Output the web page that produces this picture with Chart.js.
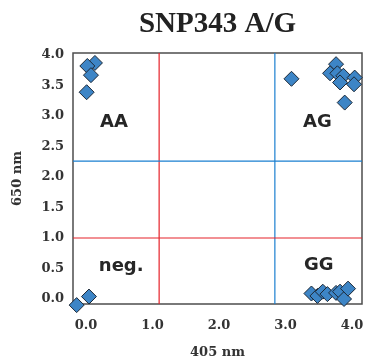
<!DOCTYPE html>
<html>
<head>
<meta charset="utf-8">
<script src="https://cdn.jsdelivr.net/npm/chart.js@4.4.1/dist/chart.umd.min.js"></script>
<style>
html, body { margin: 0; padding: 0; background: #fff; }
</style>
</head>
<body>
<canvas id="snpChart" width="367" height="364"></canvas>
<script>
// readings, 405 nm (x) vs 650 nm (y)
const pointsX = [0.135, 0.02, 0.075, 0.01,
                 -0.14, 0.045,
                 3.09, 3.76, 3.67, 3.78, 3.87, 3.82, 4.04, 4.03, 3.89,
                 3.39, 3.48, 3.56, 3.63, 3.76, 3.82, 3.88, 3.94];
const pointsY = [3.87, 3.82, 3.67, 3.39,
                 -0.1, 0.04,
                 3.61, 3.85, 3.70, 3.70, 3.66, 3.55, 3.63, 3.52, 3.22,
                 0.09, 0.05, 0.12, 0.08, 0.10, 0.12, 0.0, 0.17];

// cluster labels
const groupNames = ['AA', 'AG', 'neg.', 'GG'];
const groupX = [0.42, 3.48, 0.53, 3.5];
const groupY = [2.9, 2.9, 0.54, 0.56];

// cut-off lines
const redCutX = 1.10;
const blueCutX = 2.84;
const redCutY = 1.0;
const blueCutY = 2.26;

const xTicks = [0, 1, 2, 3, 4];
const yTicks = [0, 0.5, 1, 1.5, 2, 2.5, 3, 3.5, 4];
const xMin = -0.195, xMax = 4.15;
const yMin = -0.082, yMax = 4.033;

const chartTitle = 'SNP343 A/G';
const RED = '#e5222a';
const BLUE = '#1a7fd0';

function hLine(v, color) {
  return { type: 'line', data: [{x: xMin, y: v}, {x: xMax, y: v}], borderColor: color,
           borderWidth: 1.2, pointRadius: 0, order: 2 };
}
function vLine(v, color) {
  return { type: 'line', data: [{x: v, y: yMin}, {x: v, y: yMax}], borderColor: color,
           borderWidth: 1.2, pointRadius: 0, order: 2 };
}

// frame, cluster names and a title centred over the plot area
const boxAndLabels = {
  id: 'boxAndLabels',
  beforeDatasetsDraw(chart) {
    const {ctx, chartArea: a, scales: {x, y}} = chart;
    ctx.save();
    ctx.strokeStyle = '#4d4d4d';
    ctx.lineWidth = 1.5;
    ctx.strokeRect(a.left, a.top, a.right - a.left, a.bottom - a.top);

    ctx.textAlign = 'center';
    ctx.textBaseline = 'alphabetic';
    ctx.fillStyle = '#222';
    ctx.font = 'bold 29px "Liberation Serif"';
    ctx.fillText(chartTitle, (a.left + a.right) / 2, 32);

    ctx.font = 'bold 18px "DejaVu Sans"';
    ctx.fillStyle = '#262626';
    ctx.textBaseline = 'middle';
    groupNames.forEach((t, i) => {
      ctx.fillText(t, x.getPixelForValue(groupX[i]), y.getPixelForValue(groupY[i]));
    });
    ctx.restore();
  }
};

const tickFont = {family: 'DejaVu Serif', size: 13, weight: 'bold'};

new Chart(document.getElementById('snpChart'), {
  type: 'scatter',
  data: {
    datasets: [
      {
        data: pointsX.map((v, i) => ({x: v, y: pointsY[i]})),
        pointStyle: 'rectRot',
        pointRadius: 7.5,
        backgroundColor: '#3d85c6',
        borderColor: '#1c2836',
        borderWidth: 1,
        clip: false,
        order: 0
      },
      hLine(redCutY, RED),
      hLine(blueCutY, BLUE),
      vLine(redCutX, RED),
      vLine(blueCutX, BLUE)
    ]
  },
  options: {
    responsive: false,
    animation: false,
    layout: {autoPadding: false, padding: {top: 53, right: 5}},
    plugins: {
      legend: {display: false},
      tooltip: {enabled: false},
      title: {display: false}
    },
    scales: {
      x: {
        type: 'linear',
        min: xMin, max: xMax,
        grid: {display: false, drawTicks: false},
        border: {display: false},
        afterBuildTicks: s => { s.ticks = xTicks.map(v => ({value: v})); },
        afterFit: s => { s.height = 60; s.paddingLeft = 0; s.paddingRight = 0; },
        ticks: {
          padding: 14, color: '#333', font: tickFont,
          callback: v => Number(v).toFixed(1)
        },
        title: {display: true, text: '405 nm', color: '#333', font: tickFont,
                padding: {top: 0, bottom: 4}}
      },
      y: {
        type: 'linear',
        min: yMin, max: yMax,
        grid: {display: false, drawTicks: false},
        border: {display: false},
        afterBuildTicks: s => { s.ticks = yTicks.map(v => ({value: v})); },
        afterFit: s => { s.width = 73; s.paddingTop = 0; s.paddingBottom = 0; },
        ticks: {
          padding: 9, color: '#333', font: tickFont,
          callback: v => Number(v).toFixed(1)
        },
        title: {display: true, text: '650 nm', color: '#333', font: tickFont,
                padding: {top: 10, bottom: 0}}
      }
    }
  },
  plugins: [boxAndLabels]
});
</script>
</body>
</html>
